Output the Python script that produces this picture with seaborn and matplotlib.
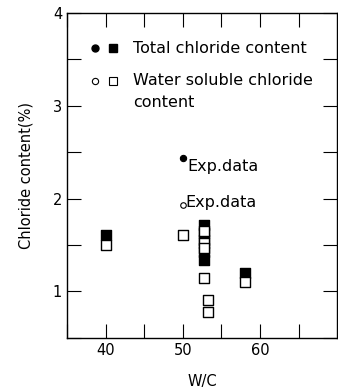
import numpy as np
import pandas as pd
import seaborn as sns
import matplotlib.pyplot as plt

# total chloride content (filled squares)
total_wc = [40, 52.8, 52.8, 52.8, 52.8, 52.8, 58]
total_cl = [1.61, 1.72, 1.63, 1.55, 1.42, 1.34, 1.20]

# water soluble chloride content (open squares)
sol_wc = [40, 50, 52.8, 52.8, 52.8, 52.8, 53.2, 53.2, 58]
sol_cl = [1.50, 1.61, 1.65, 1.52, 1.47, 1.15, 0.91, 0.78, 1.10]

# experimental data points (circles)
exp_wc = [50, 50]
exp_cl = [2.44, 1.93]
exp_filled = [True, False]

x_ticks = [40, 50, 60]
y_ticks = [1, 2, 3, 4]

sns.set_style("ticks")
plt.rcParams['font.family'] = ['DejaVu Sans']
plt.rcParams['text.color'] = 'black'
plt.rcParams['axes.labelcolor'] = 'black'

fig = plt.figure(figsize=(3.38, 3.92), dpi=100)
ax = fig.add_axes([0.198, 0.138, 0.80, 0.829])

total = pd.DataFrame({"wc": total_wc, "cl": total_cl})
sol = pd.DataFrame({"wc": sol_wc, "cl": sol_cl})

sns.scatterplot(data=total, x="wc", y="cl", marker="s", s=45, color="black",
                edgecolor="black", linewidth=1, ax=ax, zorder=2)
sns.scatterplot(data=sol, x="wc", y="cl", marker="s", s=45, color="white",
                edgecolor="black", linewidth=1, ax=ax, zorder=3)

offsets = [(3, -6), (2, 2)]
for x, y, f, off in zip(exp_wc, exp_cl, exp_filled, offsets):
    ax.plot(x, y, "o", ms=4.5 if f else 4, mfc="black" if f else "white",
            mec="black", mew=0.8)
    ax.annotate("Exp.data", (x, y), xytext=off, textcoords="offset points",
                fontsize=11.5, va="center")

ax.set_xlim(35, 70)
ax.set_ylim(0.5, 4)
ax.set_xticks(x_ticks)
ax.set_xticks(np.arange(35, 70, 5), minor=True)
ax.set_yticks(y_ticks)
ax.set_yticks(np.arange(0.5, 4.01, 0.5), minor=True)
ax.tick_params(which="both", direction="in", top=True, right=True,
               length=10, width=0.8, labelsize=10.5, colors="black")
ax.set_xlabel("W/C", fontsize=10.5, labelpad=12)
ax.set_ylabel("Chloride content(%)", fontsize=10.5, labelpad=14)
for sp in ax.spines.values():
    sp.set_linewidth(1)
    sp.set_color("black")

# legend drawn by hand so the marker sits on the first line of the label
tr = ax.transAxes
ax.plot(0.103, 0.892, "o", ms=5, mfc="black", mec="black", transform=tr)
ax.plot(0.170, 0.892, "s", ms=5.5, mfc="black", mec="black", transform=tr)
ax.plot(0.103, 0.791, "o", ms=4.5, mfc="white", mec="black", mew=0.8, transform=tr)
ax.plot(0.170, 0.791, "s", ms=5.5, mfc="white", mec="black", mew=0.8, transform=tr)
ax.text(0.244, 0.892, "Total chloride content", fontsize=11.5, va="center", transform=tr)
ax.text(0.244, 0.791, "Water soluble chloride", fontsize=11.5, va="center", transform=tr)
ax.text(0.244, 0.723, "content", fontsize=11.5, va="center", transform=tr)

fig.savefig("out.png", dpi=100)
